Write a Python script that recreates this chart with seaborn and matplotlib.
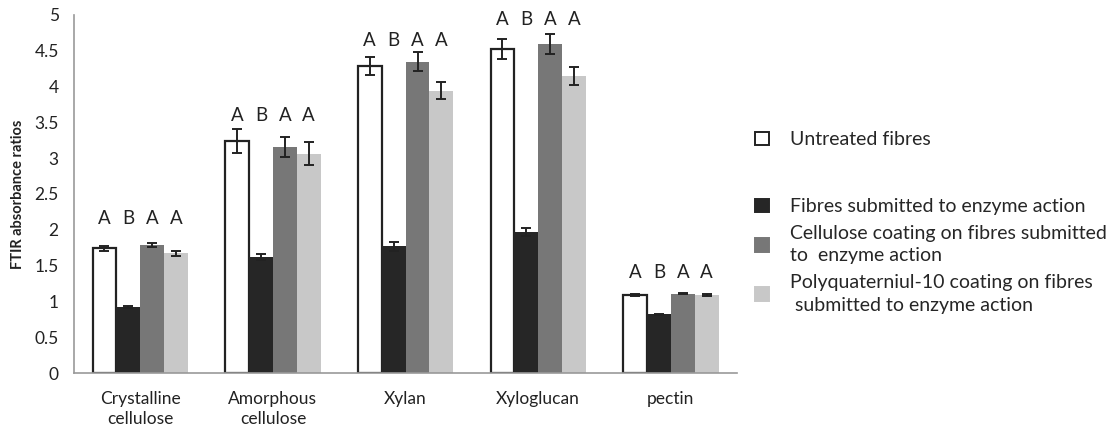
import pandas as pd
import seaborn as sns
import matplotlib.pyplot as plt
from matplotlib.patches import Patch

categories = ['Crystalline\ncellulose', 'Amorphous\ncellulose', 'Xylan', 'Xyloglucan', 'pectin']
treatments = ['Untreated fibres',
              'Fibres submitted to enzyme action',
              'Cellulose coating on fibres submitted\nto  enzyme action',
              'Polyquaterniul-10 coating on fibres\n submitted to enzyme action']

untreated = [1.74, 3.24, 4.29, 4.53, 1.09]
enzyme = [0.92, 1.62, 1.77, 1.97, 0.82]
cellulose = [1.79, 3.15, 4.35, 4.60, 1.11]
polyq = [1.67, 3.06, 3.94, 4.15, 1.09]

untreated_err = [0.03, 0.17, 0.13, 0.14, 0.01]
enzyme_err = [0.01, 0.04, 0.06, 0.06, 0.01]
cellulose_err = [0.03, 0.14, 0.13, 0.14, 0.01]
polyq_err = [0.03, 0.16, 0.12, 0.13, 0.01]

letters = ['A', 'B', 'A', 'A']
letter_heights = [2.16, 3.60, 4.65, 4.93, 1.40]

colors = ['white', '#262626', '#777777', '#c8c8c8']

values = [untreated, enzyme, cellulose, polyq]
errors = [untreated_err, enzyme_err, cellulose_err, polyq_err]

rows = []
for t, vals, errs in zip(treatments, values, errors):
    for c, v, e in zip(categories, vals, errs):
        rows.append({'Category': c, 'Treatment': t, 'Value': v, 'Err': e})
data = pd.DataFrame(rows)

sns.set_style('white')
plt.rcParams['font.family'] = ['Lato', 'DejaVu Sans']

fig = plt.figure(figsize=(11.12, 4.28), dpi=100)
ax = fig.add_axes([0.0665, 0.1285, 0.5965, 0.8365])

sns.barplot(data=data, x='Category', y='Value', hue='Treatment', order=categories,
            hue_order=treatments, palette=colors, width=0.72, gap=0,
            errorbar=None, legend=False, ax=ax)

# outline on the untreated bars, error bars and letters
n = len(categories)
for j, t in enumerate(treatments):
    for i in range(n):
        p = ax.patches[j * n + i]
        if j == 0:
            p.set_edgecolor('#222222')
            p.set_linewidth(1.6)
        else:
            p.set_edgecolor('none')
        xc = p.get_x() + p.get_width() / 2
        ax.errorbar(xc, values[j][i], yerr=errors[j][i], color='#222222',
                    capsize=3.5, elinewidth=1.4, capthick=1.4)
        ax.text(xc, letter_heights[i], letters[j], ha='center', va='center',
                fontsize=13.5, color='#222222')

ax.set_ylim(0, 5)
ax.set_xlim(-0.5, n - 0.5)
ax.set_yticks([0, 0.5, 1, 1.5, 2, 2.5, 3, 3.5, 4, 4.5, 5])
ax.set_yticklabels(['0', '0.5', '1', '1.5', '2', '2.5', '3', '3.5', '4', '4.5', '5'])
ax.set_xticks(range(n))
ax.set_xticklabels(categories, fontsize=12.5, color='#222222', linespacing=1.3)
ax.set_xticks([i - 0.5 for i in range(n + 1)], minor=True)
ax.tick_params(axis='x', which='major', length=0, pad=13)
ax.tick_params(axis='x', which='minor', length=5, color='#999999', width=1.2, direction='out')
ax.tick_params(axis='y', length=5, color='#999999', width=1.2, direction='out', labelsize=12.5,
               labelcolor='#222222', pad=6)
ax.set_xlabel('')
ax.set_ylabel('FTIR absorbance ratios', fontsize=10.5, fontweight='bold', color='#222222', labelpad=7)
for s in ['top', 'right']:
    ax.spines[s].set_visible(False)
for s in ['left', 'bottom']:
    ax.spines[s].set_color('#999999')
    ax.spines[s].set_linewidth(1.2)

handles = [Patch(facecolor=c, edgecolor='#222222' if c == 'white' else c, linewidth=1.4)
           for c in colors]
leg_kw = dict(frameon=False, fontsize=14, handlelength=0.7, handleheight=0.7,
              handletextpad=1.1, borderaxespad=0, borderpad=0)
fig.legend(handles[:1], treatments[:1], loc='center left', bbox_to_anchor=(0.679, 0.673), **leg_kw)
leg2 = fig.legend(handles[1:], treatments[1:], loc='upper left', bbox_to_anchor=(0.679, 0.537),
                  labelspacing=0.5, **leg_kw)
for txt in leg2.get_texts():
    txt.set_linespacing(1.4)

fig.savefig('out.png', dpi=100)
